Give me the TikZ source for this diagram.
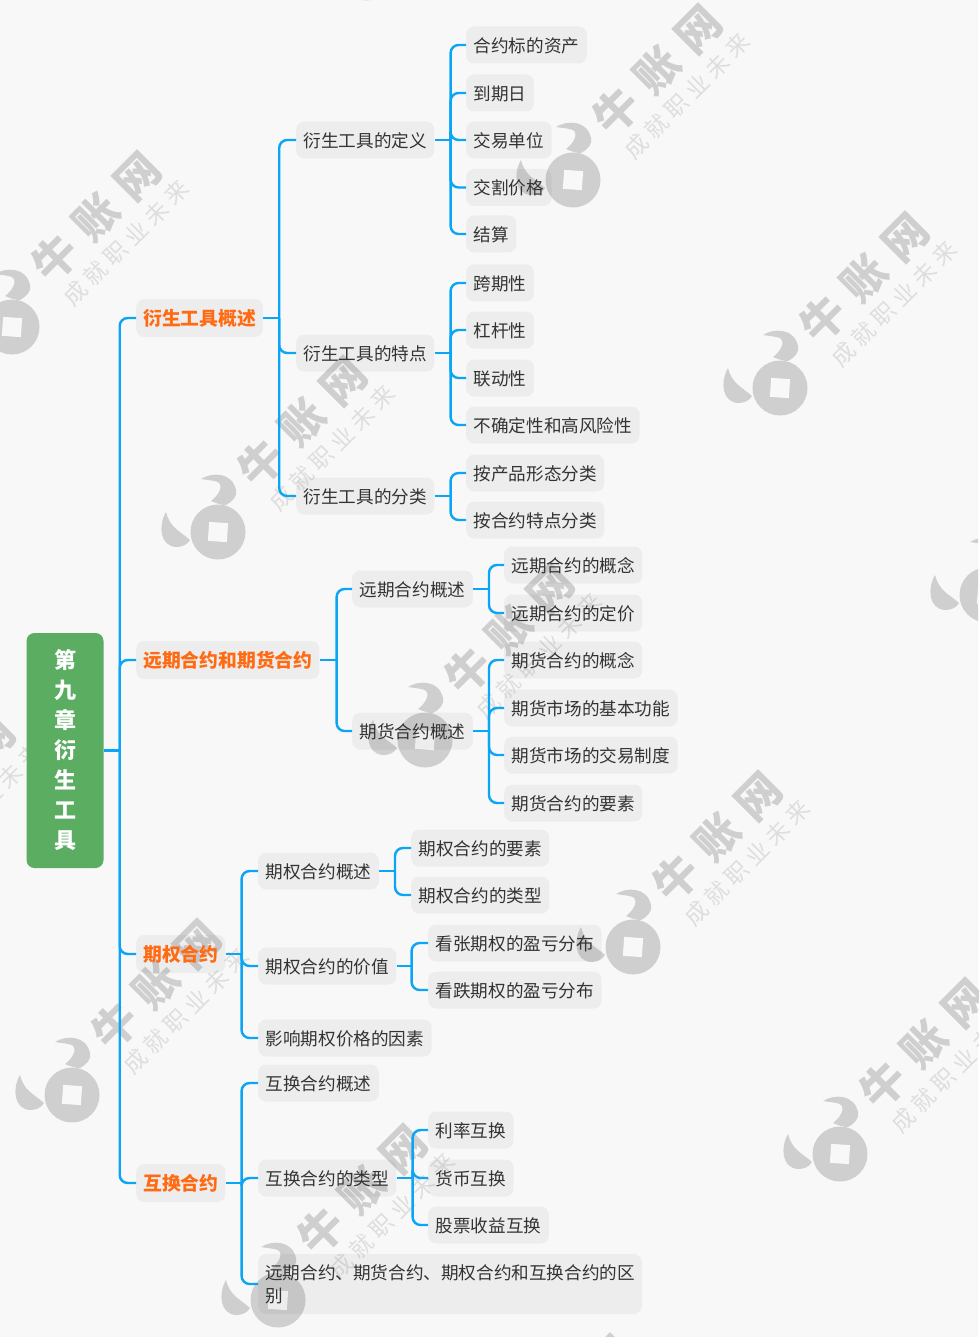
\documentclass[tikz,border=0pt]{standalone}
\usepackage{fontspec}
\setmainfont{Noto Sans CJK SC}
\usepackage{tikz}
\definecolor{pagebg}{HTML}{F8F8F8}
\definecolor{wmgray}{HTML}{CFCFCF}
\definecolor{wmsoft}{HTML}{DEDEDE}
\definecolor{linkblue}{HTML}{0AA5F5}
\definecolor{rootgreen}{HTML}{5BAD62}
\definecolor{headorange}{HTML}{FF6A13}
\definecolor{inktext}{HTML}{333333}
\tikzset{
  item/.style={anchor=west, fill=black, fill opacity=0.045, text opacity=1, text=inktext, rounded corners=8,
    inner xsep=7.5, inner ysep=0, minimum height=37, text height=16.9, text depth=2.1, font=\fontsize{17.6}{23}\selectfont},
  head/.style={item, text=headorange, minimum height=38, inner xsep=7, font=\bfseries\fontsize{18.8}{23}\selectfont},
  rootbox/.style={fill=rootgreen, text=white, rounded corners=8, minimum width=77, minimum height=235, inner sep=0,
    align=center, font=\bfseries\fontsize{22}{30}\selectfont},
  link/.style={draw=linkblue, line width=2.4, rounded corners=8},
  stub/.style={draw=linkblue, line width=2.4}
}
\begin{document}
\begin{tikzpicture}[x=1pt, y=-1pt]
\useasboundingbox (0,0) rectangle (978,1337);
\fill[pagebg] (0,0) rectangle (978,1337);

\begin{scope}
\clip (0,0) rectangle (978,1337);
\foreach \wx/\wy [count=\wi] in {366/-27, 12/327, 573/180, 780/388, 218/532, 425/740, 633/947, 987/595, 72/1095, 840/1154, 278/1300, -134/890, 485/1510}{
  \begin{scope}[shift={(\wx,\wy)}]
  \fill[wmgray] (0,0) circle (27.5);
  \fill[pagebg, rotate=-4] (-9.5,-9.5) rectangle (9.5,9.5);
  \fill[wmgray] (-52,-20) .. controls (-60,-6) and (-58,14) .. (-42,15) .. controls (-36,15) and (-31,13) .. (-28,8)
    .. controls (-38,-1) and (-48,-4) .. (-52,-20) -- cycle;
  \fill[wmgray] (-17,-53) .. controls (-6,-60) and (14,-60) .. (18,-42) .. controls (20,-36) and (14,-30) .. (8,-27)
    .. controls (4,-27) and (0,-28) .. (-7,-31) .. controls (0,-36) and (6,-46) .. (0,-50) .. controls (-6,-52) and (-12,-52) .. (-17,-53) -- cycle;
  \node[text=wmgray, rotate=45, font=\bfseries\fontsize{44}{44}\selectfont] (brand\wi) at (84,-110) {牛\kern14pt账\kern14pt网};
  \node[text=wmsoft, rotate=45, font=\fontsize{23}{23}\selectfont] (motto\wi) at (114,-84) {成\kern5.5pt就\kern5.5pt职\kern5.5pt业\kern5.5pt未\kern5.5pt来};
  \end{scope}
}
\end{scope}

\node[rootbox] (root) at (65,750.5) {第\\九\\章\\衍\\生\\工\\具};

\node[head] (intro) at (136,318) {衍生工具概述};
\node[head] (fwd) at (136,660) {远期合约和期货合约};
\node[head] (opt) at (136,954) {期权合约};
\node[head] (swap) at (136,1183) {互换合约};

\node[item] (define) at (296,140) {衍生工具的定义};
\node[item] (trait) at (296,353) {衍生工具的特点};
\node[item] (sort) at (296,496) {衍生工具的分类};
\node[item] (fwdsum) at (352,589) {远期合约概述};
\node[item] (futsum) at (352,731) {期货合约概述};
\node[item] (optsum) at (258,871) {期权合约概述};
\node[item] (optval) at (258,966) {期权合约的价值};
\node[item] (optfac) at (258,1038) {影响期权价格的因素};
\node[item] (swapsum) at (258,1083) {互换合约概述};
\node[item] (swaptype) at (258,1178) {互换合约的类型};
\node[item, align=left, minimum height=60, inner xsep=7, text height=, text depth=] (swapdiff) at (258,1284) {远期合约、期货合约、期权合约和互换合约的区\\别};

\node[item] (asset) at (466,45) {合约标的资产};
\node[item] (expiry) at (466,93) {到期日};
\node[item] (unit) at (466,140) {交易单位};
\node[item] (price) at (466,187.5) {交割价格};
\node[item] (settle) at (466,234) {结算};
\node[item] (span) at (466,283) {跨期性};
\node[item] (lever) at (466,330) {杠杆性};
\node[item] (joint) at (466,378) {联动性};
\node[item] (risk) at (466,425) {不确定性和高风险性};
\node[item] (byform) at (466,473) {按产品形态分类};
\node[item] (bytrait) at (466,520) {按合约特点分类};
\node[item] (fwdidea) at (504,565) {远期合约的概念};
\node[item] (fwdprice) at (504,613) {远期合约的定价};
\node[item] (futidea) at (504,660) {期货合约的概念};
\node[item] (futrole) at (504,708) {期货市场的基本功能};
\node[item] (futrule) at (504,755) {期货市场的交易制度};
\node[item] (futpart) at (504,803) {期货合约的要素};
\node[item] (optpart) at (411,848) {期权合约的要素};
\node[item] (optkind) at (411,895) {期权合约的类型};
\node[item] (callpay) at (428,943) {看张期权的盈亏分布};
\node[item] (putpay) at (428,990) {看跌期权的盈亏分布};
\node[item] (rate) at (428,1130) {利率互换};
\node[item] (money) at (428,1178) {货币互换};
\node[item] (equity) at (428,1225) {股票收益互换};

\draw[stub] (root.east) -- ++(16,0) coordinate (hubroot);
\foreach \kid in {intro,fwd,opt,swap} \draw[link] (hubroot) |- (\kid.west);
\draw[stub] (intro.east) -- ++(16,0) coordinate (hubintro);
\foreach \kid in {define,trait,sort} \draw[link] (hubintro) |- (\kid.west);
\draw[stub] (fwd.east) -- ++(17,0) coordinate (hubfwd);
\foreach \kid in {fwdsum,futsum} \draw[link] (hubfwd) |- (\kid.west);
\draw[stub] (opt.east) -- ++(16,0) coordinate (hubopt);
\foreach \kid in {optsum,optval,optfac} \draw[link] (hubopt) |- (\kid.west);
\draw[stub] (swap.east) -- ++(16,0) coordinate (hubswap);
\foreach \kid in {swapsum,swaptype,swapdiff} \draw[link] (hubswap) |- (\kid.west);
\draw[stub] (define.east) -- ++(16,0) coordinate (hubdefine);
\foreach \kid in {asset,expiry,unit,price,settle} \draw[link] (hubdefine) |- (\kid.west);
\draw[stub] (trait.east) -- ++(16,0) coordinate (hubtrait);
\foreach \kid in {span,lever,joint,risk} \draw[link] (hubtrait) |- (\kid.west);
\draw[stub] (sort.east) -- ++(16,0) coordinate (hubsort);
\foreach \kid in {byform,bytrait} \draw[link] (hubsort) |- (\kid.west);
\draw[stub] (fwdsum.east) -- ++(16,0) coordinate (hubfwdsum);
\foreach \kid in {fwdidea,fwdprice} \draw[link] (hubfwdsum) |- (\kid.west);
\draw[stub] (futsum.east) -- ++(16,0) coordinate (hubfutsum);
\foreach \kid in {futidea,futrole,futrule,futpart} \draw[link] (hubfutsum) |- (\kid.west);
\draw[stub] (optsum.east) -- ++(16,0) coordinate (huboptsum);
\foreach \kid in {optpart,optkind} \draw[link] (huboptsum) |- (\kid.west);
\draw[stub] (optval.east) -- ++(15,0) coordinate (huboptval);
\foreach \kid in {callpay,putpay} \draw[link] (huboptval) |- (\kid.west);
\draw[stub] (swaptype.east) -- ++(16,0) coordinate (hubtype);
\foreach \kid in {rate,money,equity} \draw[link] (hubtype) |- (\kid.west);
\end{tikzpicture}
\end{document}
